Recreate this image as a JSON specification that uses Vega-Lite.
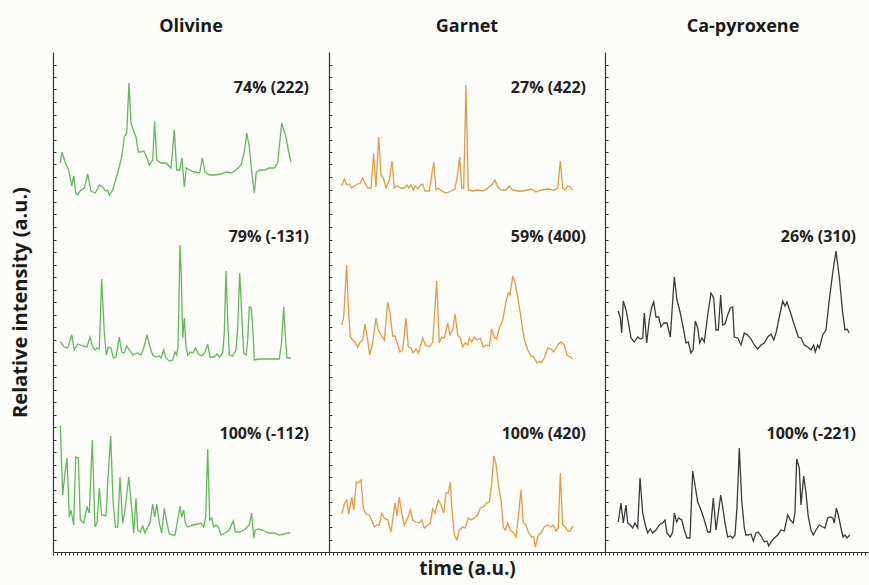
{
"$schema": "https://vega.github.io/schema/vega-lite/v6.json",
"background": "#fcfcf8",
"padding": {"left": 10, "top": 18, "right": 0, "bottom": 8},
"spacing": 0,
"bounds": "flush",
"config": {
  "view": {"stroke": null},
  "font": "Open Sans",
  "axis": {"domainColor": "#333333", "tickColor": "#333333", "domainWidth": 1.2, "tickWidth": 1, "labels": false, "grid": false, "titleFont": "Open Sans", "titleFontWeight": "bold", "titleFontSize": 20, "titleColor": "#1a1a1a"},
  "title": {"font": "Open Sans", "fontSize": 18, "fontWeight": "bold", "color": "#1a1a1a", "offset": 16, "frame": "group", "anchor": "middle"},
  "text": {"font": "Open Sans", "fontWeight": "bold", "fontSize": 16, "color": "#222222", "align": "right", "baseline": "middle"},
  "line": {"strokeWidth": 1.3}
},
"datasets": {
  "ol1": [{"t":7.3,"v":389},{"t":9,"v":400},{"t":12.3,"v":389},{"t":15.7,"v":382},{"t":18.7,"v":366},{"t":20.7,"v":376},{"t":22.7,"v":359},{"t":24.7,"v":357},{"t":27,"v":361},{"t":31.3,"v":364},{"t":34.7,"v":378},{"t":38,"v":361},{"t":42.3,"v":359},{"t":46.3,"v":367},{"t":49.7,"v":365},{"t":52.3,"v":361},{"t":54.7,"v":362},{"t":56.3,"v":357},{"t":59.7,"v":362},{"t":64.7,"v":379},{"t":68.7,"v":395},{"t":71.3,"v":415},{"t":73.7,"v":419},{"t":76,"v":469},{"t":78,"v":429},{"t":80.3,"v":422},{"t":83,"v":415},{"t":85.3,"v":400},{"t":88,"v":400},{"t":90.7,"v":401},{"t":93.7,"v":395},{"t":96.3,"v":387},{"t":99.7,"v":392},{"t":101.7,"v":430},{"t":103.7,"v":392},{"t":108,"v":389},{"t":113,"v":389},{"t":118,"v":384},{"t":121.3,"v":422},{"t":123.7,"v":382},{"t":126.7,"v":382},{"t":129,"v":394},{"t":131.3,"v":365},{"t":133.3,"v":384},{"t":136.3,"v":382},{"t":141.3,"v":380},{"t":146.7,"v":379},{"t":149.3,"v":394},{"t":152,"v":380},{"t":156.3,"v":377},{"t":161.3,"v":377},{"t":168,"v":378},{"t":173,"v":380},{"t":178,"v":379},{"t":183,"v":382},{"t":188,"v":387},{"t":191.3,"v":400},{"t":193.7,"v":419},{"t":196.3,"v":405},{"t":198.7,"v":380},{"t":201.3,"v":359},{"t":203.3,"v":380},{"t":206.3,"v":382},{"t":211.3,"v":382},{"t":216.3,"v":384},{"t":221.3,"v":384},{"t":224.7,"v":389},{"t":226.3,"v":405},{"t":228.7,"v":429},{"t":230.7,"v":422},{"t":233,"v":415},{"t":235.3,"v":402},{"t":238,"v":390}],
  "ol2": [{"t":7.3,"v":210},{"t":11.3,"v":205},{"t":14.7,"v":204},{"t":18.7,"v":217},{"t":21.3,"v":202},{"t":24.7,"v":208},{"t":29.7,"v":206},{"t":34,"v":205},{"t":37,"v":215},{"t":39.7,"v":205},{"t":42,"v":202},{"t":44,"v":204},{"t":46.3,"v":203},{"t":48.7,"v":273},{"t":51.3,"v":219},{"t":53.3,"v":197},{"t":55.3,"v":205},{"t":58,"v":204},{"t":60.3,"v":194},{"t":63,"v":195},{"t":66.3,"v":215},{"t":68.7,"v":200},{"t":71.3,"v":199},{"t":73.7,"v":206},{"t":76.3,"v":202},{"t":79.7,"v":197},{"t":84,"v":199},{"t":88,"v":197},{"t":90.7,"v":204},{"t":94,"v":217},{"t":97,"v":205},{"t":99.7,"v":197},{"t":103,"v":195},{"t":106.3,"v":196},{"t":108,"v":194},{"t":110.7,"v":202},{"t":113,"v":194},{"t":116.3,"v":191},{"t":119.7,"v":192},{"t":122,"v":200},{"t":123.7,"v":197},{"t":125,"v":205},{"t":127,"v":307},{"t":128.3,"v":275},{"t":129.7,"v":214},{"t":131.3,"v":234},{"t":133,"v":205},{"t":134.7,"v":197},{"t":137.3,"v":200},{"t":140,"v":199},{"t":142.3,"v":204},{"t":145.3,"v":198},{"t":149,"v":196},{"t":152,"v":200},{"t":154.7,"v":208},{"t":157,"v":195},{"t":161.3,"v":195},{"t":164,"v":198},{"t":166.7,"v":195},{"t":169.7,"v":199},{"t":171.3,"v":219},{"t":173,"v":281},{"t":174.7,"v":232},{"t":176.3,"v":197},{"t":179.7,"v":196},{"t":183,"v":202},{"t":184.7,"v":225},{"t":186.7,"v":279},{"t":188.7,"v":239},{"t":190.7,"v":199},{"t":193,"v":197},{"t":194.7,"v":212},{"t":196.3,"v":245},{"t":198.3,"v":244},{"t":200,"v":219},{"t":201.3,"v":192},{"t":206.3,"v":193},{"t":213,"v":193},{"t":219.7,"v":193},{"t":226.3,"v":193},{"t":228.7,"v":211},{"t":230.7,"v":245},{"t":232.7,"v":211},{"t":234,"v":194},{"t":238,"v":194}],
  "ol3": [{"t":7.3,"v":126},{"t":9.7,"v":57},{"t":12,"v":79},{"t":14,"v":94},{"t":16.3,"v":35},{"t":18,"v":42},{"t":20.7,"v":27},{"t":22.7,"v":95},{"t":25.3,"v":94},{"t":27.3,"v":32},{"t":30.7,"v":29},{"t":34,"v":45},{"t":36.3,"v":39},{"t":39.3,"v":112},{"t":42,"v":25},{"t":44,"v":29},{"t":46.3,"v":64},{"t":48.7,"v":37},{"t":53,"v":36},{"t":55.3,"v":79},{"t":57.7,"v":116},{"t":60,"v":52},{"t":62.3,"v":25},{"t":64.7,"v":25},{"t":67,"v":75},{"t":69.7,"v":29},{"t":72,"v":42},{"t":75.7,"v":75},{"t":78,"v":52},{"t":80.7,"v":19},{"t":83,"v":54},{"t":84.7,"v":22},{"t":87.3,"v":20},{"t":89.7,"v":26},{"t":92,"v":19},{"t":94.7,"v":25},{"t":97,"v":29},{"t":99.7,"v":48},{"t":101.7,"v":35},{"t":103.7,"v":48},{"t":106.3,"v":29},{"t":108.7,"v":19},{"t":111.3,"v":44},{"t":113.7,"v":30},{"t":116.3,"v":18},{"t":119.7,"v":17},{"t":122,"v":17},{"t":124.7,"v":32},{"t":127,"v":46},{"t":128.7,"v":35},{"t":130.7,"v":42},{"t":132.3,"v":29},{"t":134.7,"v":25},{"t":139.7,"v":27},{"t":144.7,"v":28},{"t":148,"v":29},{"t":150.7,"v":25},{"t":152.7,"v":35},{"t":154.7,"v":103},{"t":156.7,"v":32},{"t":158.7,"v":34},{"t":160.7,"v":25},{"t":163,"v":27},{"t":165.3,"v":25},{"t":168,"v":17},{"t":172,"v":19},{"t":176.3,"v":22},{"t":180.3,"v":31},{"t":182.3,"v":20},{"t":186.3,"v":20},{"t":191.3,"v":22},{"t":196.3,"v":27},{"t":198.7,"v":39},{"t":200.7,"v":14},{"t":202.3,"v":22},{"t":205.7,"v":23},{"t":211.3,"v":21},{"t":216.3,"v":19},{"t":221.3,"v":19},{"t":226.3,"v":17},{"t":231.3,"v":18},{"t":234.7,"v":19},{"t":237.3,"v":19}],
  "gt1": [{"t":12.7,"v":366},{"t":15.3,"v":373},{"t":18,"v":367},{"t":20.3,"v":368},{"t":22.7,"v":364},{"t":25.3,"v":366},{"t":28.7,"v":368},{"t":31.3,"v":369},{"t":33.7,"v":374},{"t":36,"v":369},{"t":38.7,"v":364},{"t":42,"v":364},{"t":44.7,"v":398},{"t":47,"v":365},{"t":49.7,"v":415},{"t":52,"v":377},{"t":54.3,"v":374},{"t":57,"v":364},{"t":60.3,"v":372},{"t":63,"v":391},{"t":65.3,"v":364},{"t":68,"v":366},{"t":72,"v":364},{"t":75.3,"v":364},{"t":78,"v":367},{"t":79.7,"v":364},{"t":82,"v":367},{"t":84.3,"v":362},{"t":86.3,"v":366},{"t":88.7,"v":363},{"t":91.3,"v":367},{"t":93.7,"v":368},{"t":96,"v":361},{"t":100.3,"v":361},{"t":102.7,"v":377},{"t":104.7,"v":390},{"t":107,"v":362},{"t":109.3,"v":364},{"t":112.7,"v":361},{"t":117,"v":359},{"t":122,"v":361},{"t":126,"v":363},{"t":128.7,"v":379},{"t":130.7,"v":395},{"t":132.7,"v":364},{"t":134.7,"v":364},{"t":137,"v":467},{"t":139.3,"v":362},{"t":143.7,"v":361},{"t":148.7,"v":362},{"t":153.7,"v":361},{"t":158.7,"v":364},{"t":162.7,"v":367},{"t":166,"v":372},{"t":168.7,"v":365},{"t":172,"v":362},{"t":177,"v":362},{"t":180.3,"v":366},{"t":183.7,"v":362},{"t":188.7,"v":361},{"t":193.7,"v":361},{"t":198.7,"v":362},{"t":202.7,"v":363},{"t":207,"v":360},{"t":212,"v":362},{"t":218.7,"v":363},{"t":225.3,"v":362},{"t":228.7,"v":364},{"t":231.3,"v":391},{"t":233.7,"v":364},{"t":236,"v":362},{"t":238.7,"v":366},{"t":241.3,"v":365},{"t":243.7,"v":362}],
  "gt2": [{"t":12.7,"v":227},{"t":14.7,"v":235},{"t":17.7,"v":287},{"t":19.3,"v":245},{"t":21.3,"v":215},{"t":23.7,"v":212},{"t":26,"v":210},{"t":28.7,"v":205},{"t":31.3,"v":210},{"t":33.7,"v":212},{"t":36,"v":228},{"t":38.7,"v":212},{"t":40.7,"v":197},{"t":43.7,"v":209},{"t":47,"v":234},{"t":49.3,"v":222},{"t":52,"v":217},{"t":55.3,"v":212},{"t":58.7,"v":250},{"t":61,"v":239},{"t":63.7,"v":216},{"t":66,"v":216},{"t":68.7,"v":207},{"t":71,"v":200},{"t":73.7,"v":202},{"t":77,"v":234},{"t":79.3,"v":205},{"t":82,"v":204},{"t":84.3,"v":199},{"t":87,"v":203},{"t":89.3,"v":199},{"t":93.7,"v":214},{"t":96.3,"v":207},{"t":100.3,"v":205},{"t":103.7,"v":210},{"t":107.7,"v":271},{"t":110.3,"v":209},{"t":112.7,"v":215},{"t":115.3,"v":214},{"t":118.7,"v":229},{"t":121,"v":217},{"t":123.7,"v":222},{"t":126,"v":238},{"t":128.7,"v":217},{"t":131.3,"v":214},{"t":133.7,"v":205},{"t":136,"v":209},{"t":138.7,"v":207},{"t":140.3,"v":214},{"t":142.7,"v":210},{"t":145.3,"v":215},{"t":148,"v":212},{"t":151.3,"v":214},{"t":154.3,"v":205},{"t":157,"v":207},{"t":160.3,"v":206},{"t":162.7,"v":223},{"t":165.3,"v":215},{"t":167.7,"v":213},{"t":170.3,"v":224},{"t":173.7,"v":232},{"t":177,"v":250},{"t":179.3,"v":259},{"t":181,"v":257},{"t":183.7,"v":276},{"t":186,"v":269},{"t":188.7,"v":255},{"t":191.3,"v":239},{"t":193.7,"v":222},{"t":196,"v":210},{"t":198.7,"v":202},{"t":202,"v":196},{"t":204.7,"v":195},{"t":208,"v":189},{"t":210.3,"v":190},{"t":212.7,"v":190},{"t":215.3,"v":194},{"t":218.7,"v":204},{"t":222,"v":203},{"t":224.7,"v":200},{"t":228.7,"v":207},{"t":232,"v":210},{"t":235.3,"v":207},{"t":238,"v":197},{"t":241.3,"v":195},{"t":243.7,"v":193}],
  "gt3": [{"t":12.7,"v":38},{"t":15.3,"v":48},{"t":17.7,"v":52},{"t":19.7,"v":38},{"t":22.7,"v":55},{"t":24.7,"v":42},{"t":27.3,"v":70},{"t":29.3,"v":69},{"t":32,"v":72},{"t":34.3,"v":44},{"t":37,"v":38},{"t":40.3,"v":37},{"t":42.7,"v":32},{"t":45.3,"v":25},{"t":48,"v":27},{"t":50.3,"v":27},{"t":52.7,"v":39},{"t":55.3,"v":34},{"t":58.7,"v":32},{"t":62,"v":20},{"t":66,"v":49},{"t":68,"v":36},{"t":70.3,"v":55},{"t":72.7,"v":39},{"t":75.3,"v":27},{"t":78.7,"v":34},{"t":81.3,"v":42},{"t":83.7,"v":32},{"t":87,"v":30},{"t":90.3,"v":29},{"t":92.7,"v":32},{"t":95.3,"v":24},{"t":98.7,"v":27},{"t":101.3,"v":29},{"t":103.7,"v":43},{"t":106,"v":39},{"t":109.3,"v":52},{"t":112,"v":47},{"t":114.7,"v":39},{"t":117,"v":59},{"t":119.3,"v":59},{"t":121.3,"v":70},{"t":123,"v":42},{"t":125.3,"v":17},{"t":128,"v":12},{"t":130.3,"v":22},{"t":133.7,"v":25},{"t":136.3,"v":24},{"t":139.3,"v":34},{"t":142,"v":32},{"t":145.3,"v":34},{"t":148.7,"v":37},{"t":151.3,"v":44},{"t":154.7,"v":45},{"t":157.7,"v":49},{"t":160.3,"v":50},{"t":162.7,"v":68},{"t":164.7,"v":96},{"t":167,"v":88},{"t":169.7,"v":65},{"t":172,"v":52},{"t":174.3,"v":25},{"t":176.3,"v":22},{"t":178.7,"v":29},{"t":181.3,"v":22},{"t":184.7,"v":19},{"t":187,"v":15},{"t":189.3,"v":35},{"t":192,"v":62},{"t":194.3,"v":29},{"t":197,"v":27},{"t":199.3,"v":20},{"t":202.7,"v":15},{"t":204.7,"v":15},{"t":206.3,"v":5},{"t":209.3,"v":17},{"t":212,"v":19},{"t":215.3,"v":25},{"t":218.7,"v":27},{"t":222,"v":25},{"t":224.3,"v":27},{"t":227,"v":21},{"t":229.3,"v":24},{"t":231.3,"v":79},{"t":233.7,"v":27},{"t":236,"v":25},{"t":238.7,"v":21},{"t":241.3,"v":21},{"t":243.7,"v":26}],
  "cpx2": [{"t":13.3,"v":241},{"t":15.3,"v":234},{"t":16.7,"v":219},{"t":18.3,"v":251},{"t":21,"v":242},{"t":23.3,"v":230},{"t":26,"v":214},{"t":29.3,"v":210},{"t":32.7,"v":215},{"t":35.3,"v":213},{"t":37.7,"v":214},{"t":39.3,"v":239},{"t":41.7,"v":209},{"t":44.3,"v":232},{"t":46.7,"v":245},{"t":48.7,"v":250},{"t":51,"v":235},{"t":53.7,"v":235},{"t":56,"v":225},{"t":58.7,"v":229},{"t":62,"v":229},{"t":65.3,"v":215},{"t":69.3,"v":275},{"t":72,"v":252},{"t":75.3,"v":239},{"t":78.7,"v":222},{"t":81,"v":209},{"t":83.3,"v":210},{"t":86,"v":199},{"t":88,"v":202},{"t":90.3,"v":231},{"t":92.7,"v":224},{"t":94.7,"v":209},{"t":97,"v":214},{"t":99.3,"v":210},{"t":102.7,"v":237},{"t":106,"v":259},{"t":108.7,"v":254},{"t":111,"v":222},{"t":113.3,"v":222},{"t":115.7,"v":257},{"t":117.7,"v":227},{"t":120,"v":228},{"t":122.7,"v":237},{"t":125.3,"v":244},{"t":127.7,"v":245},{"t":129.3,"v":215},{"t":132.7,"v":214},{"t":136,"v":207},{"t":139.3,"v":219},{"t":142.7,"v":217},{"t":146,"v":213},{"t":149.3,"v":207},{"t":152.7,"v":203},{"t":156,"v":207},{"t":159.3,"v":209},{"t":162.7,"v":215},{"t":166,"v":218},{"t":168.7,"v":212},{"t":171.3,"v":220},{"t":174.3,"v":235},{"t":177.7,"v":251},{"t":180,"v":246},{"t":182,"v":250},{"t":185.3,"v":240},{"t":189.3,"v":227},{"t":193.3,"v":215},{"t":196,"v":214},{"t":199.3,"v":207},{"t":202.7,"v":205},{"t":206,"v":202},{"t":208.7,"v":207},{"t":210.3,"v":200},{"t":212.7,"v":207},{"t":214.3,"v":204},{"t":217.7,"v":217},{"t":221,"v":222},{"t":224.3,"v":252},{"t":227.7,"v":279},{"t":231,"v":301},{"t":234.3,"v":275},{"t":237.7,"v":239},{"t":240,"v":222},{"t":242,"v":223},{"t":244.3,"v":219}],
  "cpx3": [{"t":13.3,"v":30},{"t":16,"v":49},{"t":18.3,"v":29},{"t":21,"v":47},{"t":22.7,"v":29},{"t":25.3,"v":27},{"t":27.7,"v":24},{"t":30,"v":29},{"t":32.7,"v":24},{"t":35,"v":74},{"t":37.7,"v":39},{"t":40.3,"v":27},{"t":42.7,"v":19},{"t":45.3,"v":23},{"t":47.7,"v":19},{"t":51,"v":22},{"t":54.3,"v":27},{"t":57.7,"v":29},{"t":60,"v":32},{"t":62,"v":19},{"t":65.3,"v":15},{"t":67.7,"v":20},{"t":69.3,"v":39},{"t":71.7,"v":30},{"t":73.7,"v":34},{"t":76.7,"v":32},{"t":79.3,"v":22},{"t":82,"v":14},{"t":85,"v":14},{"t":87.7,"v":81},{"t":90.3,"v":65},{"t":92.7,"v":50},{"t":96,"v":42},{"t":99.3,"v":32},{"t":102.7,"v":20},{"t":105.3,"v":20},{"t":108.3,"v":54},{"t":111,"v":22},{"t":113.3,"v":39},{"t":115.7,"v":57},{"t":117.7,"v":45},{"t":120,"v":29},{"t":122.7,"v":15},{"t":125.3,"v":16},{"t":127.7,"v":14},{"t":130,"v":17},{"t":132,"v":45},{"t":134.3,"v":104},{"t":136.7,"v":52},{"t":139.3,"v":24},{"t":141,"v":17},{"t":143.3,"v":17},{"t":146,"v":18},{"t":148.3,"v":11},{"t":151,"v":19},{"t":153.3,"v":20},{"t":156.7,"v":15},{"t":159.3,"v":10},{"t":162,"v":11},{"t":163.7,"v":6},{"t":166,"v":10},{"t":169.3,"v":14},{"t":172.7,"v":17},{"t":176,"v":22},{"t":179.3,"v":21},{"t":182.7,"v":37},{"t":185.3,"v":32},{"t":188.3,"v":29},{"t":190,"v":40},{"t":191.7,"v":93},{"t":194.3,"v":84},{"t":196,"v":47},{"t":198.7,"v":76},{"t":201,"v":59},{"t":203.3,"v":35},{"t":206,"v":22},{"t":208.3,"v":17},{"t":211,"v":22},{"t":214.3,"v":27},{"t":217.7,"v":25},{"t":220,"v":24},{"t":222.7,"v":34},{"t":225.3,"v":35},{"t":227.7,"v":34},{"t":229.3,"v":29},{"t":231.3,"v":44},{"t":233.3,"v":37},{"t":236,"v":24},{"t":238,"v":15},{"t":240,"v":17},{"t":242,"v":14},{"t":244.7,"v":17}],
  "labels": [{"p":"Ol","t":256,"v":464,"label":"74% (222)"},{"p":"Ol","t":256,"v":315,"label":"79% (-131)"},{"p":"Ol","t":256,"v":118,"label":"100% (-112)"},{"p":"Grt","t":257,"v":464,"label":"27% (422)"},{"p":"Grt","t":257,"v":315,"label":"59% (400)"},{"p":"Grt","t":257,"v":118,"label":"100% (420)"},{"p":"Cpx","t":251,"v":315,"label":"26% (310)"},{"p":"Cpx","t":251,"v":118,"label":"100% (-221)"}]
},
"hconcat": [
  {
    "width": 276, "height": 500,
    "title": "Olivine",
    "encoding": {
      "x": {"field": "t", "type": "quantitative", "scale": {"domain": [0, 276], "nice": false, "zero": false}, "axis": {"values": [0,4,8,12,16,20,24,28,32,36,40,44,48,52,56,60,64,68,72,76,80,84,88,92,96,100,104,108,112,116,120,124,128,132,136,140,144,148,152,156,160,164,168,172,176,180,184,188,192,196,200,204,208,212,216,220,224,228,232,236,240,244,248,252,256,260,264,268,272], "tickSize": 3, "title": null}}
    },
    "layer": [
      {"data": {"name": "ol1"}, "mark": {"type": "line", "color": "#62b95a"},
       "encoding": {"y": {"field": "v", "type": "quantitative", "scale": {"domain": [0, 500], "nice": false}, "axis": {"orient": "left", "ticks": false, "domain": true, "title": "Relative intensity (a.u.)", "titlePadding": 23}}}},
      {"data": {"name": "ol2"}, "mark": {"type": "line", "color": "#62b95a"},
       "encoding": {"y": {"field": "v", "type": "quantitative", "scale": {"domain": [0, 500], "nice": false}, "axis": {"orient": "left", "offset": -3, "domain": false, "ticks": true, "tickSize": 3, "values": [12.5,25,37.5,50,62.5,75,87.5,100,112.5,125,137.5,150,162.5,175,187.5,200,212.5,225,237.5,250,262.5,275,287.5,300,312.5,325,337.5,350,362.5,375,387.5,400,412.5,425,437.5,450,462.5,475,487.5], "title": null}}}},
      {"data": {"name": "ol3"}, "mark": {"type": "line", "color": "#62b95a"},
       "encoding": {"y": {"field": "v", "type": "quantitative", "scale": {"domain": [0, 500], "nice": false}, "axis": null}}},
      {"data": {"name": "labels"}, "transform": [{"filter": "datum.p == 'Ol'"}], "mark": {"type": "text"},
       "encoding": {"y": {"field": "v", "type": "quantitative", "scale": {"domain": [0, 500], "nice": false}, "axis": null}, "text": {"field": "label"}}}
    ],
    "resolve": {"axis": {"y": "independent"}}
  },
  {
    "width": 276, "height": 500,
    "title": "Garnet",
    "encoding": {
      "x": {"field": "t", "type": "quantitative", "scale": {"domain": [0, 276], "nice": false, "zero": false}, "axis": {"values": [0,4,8,12,16,20,24,28,32,36,40,44,48,52,56,60,64,68,72,76,80,84,88,92,96,100,104,108,112,116,120,124,128,132,136,140,144,148,152,156,160,164,168,172,176,180,184,188,192,196,200,204,208,212,216,220,224,228,232,236,240,244,248,252,256,260,264,268,272], "tickSize": 3, "title": "time (a.u.)", "titlePadding": 4, "titleFontSize": 19}}
    },
    "layer": [
      {"data": {"name": "gt1"}, "mark": {"type": "line", "color": "#e39b45"},
       "encoding": {"y": {"field": "v", "type": "quantitative", "scale": {"domain": [0, 500], "nice": false}, "axis": {"orient": "left", "ticks": false, "domain": true, "title": null}}}},
      {"data": {"name": "gt2"}, "mark": {"type": "line", "color": "#e39b45"},
       "encoding": {"y": {"field": "v", "type": "quantitative", "scale": {"domain": [0, 500], "nice": false}, "axis": {"orient": "left", "offset": -3, "domain": false, "ticks": true, "tickSize": 3, "values": [12.5,25,37.5,50,62.5,75,87.5,100,112.5,125,137.5,150,162.5,175,187.5,200,212.5,225,237.5,250,262.5,275,287.5,300,312.5,325,337.5,350,362.5,375,387.5,400,412.5,425,437.5,450,462.5,475,487.5], "title": null}}}},
      {"data": {"name": "gt3"}, "mark": {"type": "line", "color": "#e39b45"},
       "encoding": {"y": {"field": "v", "type": "quantitative", "scale": {"domain": [0, 500], "nice": false}, "axis": null}}},
      {"data": {"name": "labels"}, "transform": [{"filter": "datum.p == 'Grt'"}], "mark": {"type": "text"},
       "encoding": {"y": {"field": "v", "type": "quantitative", "scale": {"domain": [0, 500], "nice": false}, "axis": null}, "text": {"field": "label"}}}
    ],
    "resolve": {"axis": {"y": "independent"}}
  },
  {
    "width": 276, "height": 500,
    "title": "Ca-pyroxene",
    "encoding": {
      "x": {"field": "t", "type": "quantitative", "scale": {"domain": [0, 276], "nice": false, "zero": false}, "axis": {"values": [0,4,8,12,16,20,24,28,32,36,40,44,48,52,56,60,64,68,72,76,80,84,88,92,96,100,104,108,112,116,120,124,128,132,136,140,144,148,152,156,160,164,168,172,176,180,184,188,192,196,200,204,208,212,216,220,224,228,232,236,240,244,248,252,256,260,264,268,272], "tickSize": 3, "title": null}}
    },
    "layer": [
      {"data": {"name": "cpx2"}, "mark": {"type": "line", "color": "#3a3a3a"},
       "encoding": {"y": {"field": "v", "type": "quantitative", "scale": {"domain": [0, 500], "nice": false}, "axis": {"orient": "left", "ticks": false, "domain": true, "title": null}}}},
      {"data": {"name": "cpx3"}, "mark": {"type": "line", "color": "#3a3a3a"},
       "encoding": {"y": {"field": "v", "type": "quantitative", "scale": {"domain": [0, 500], "nice": false}, "axis": {"orient": "left", "offset": -3, "domain": false, "ticks": true, "tickSize": 3, "values": [12.5,25,37.5,50,62.5,75,87.5,100,112.5,125,137.5,150,162.5,175,187.5,200,212.5,225,237.5,250,262.5,275,287.5,300,312.5,325,337.5,350,362.5,375,387.5,400,412.5,425,437.5,450,462.5,475,487.5], "title": null}}}},
      {"data": {"name": "labels"}, "transform": [{"filter": "datum.p == 'Cpx'"}], "mark": {"type": "text"},
       "encoding": {"y": {"field": "v", "type": "quantitative", "scale": {"domain": [0, 500], "nice": false}, "axis": null}, "text": {"field": "label"}}}
    ],
    "resolve": {"axis": {"y": "independent"}}
  }
]
}
